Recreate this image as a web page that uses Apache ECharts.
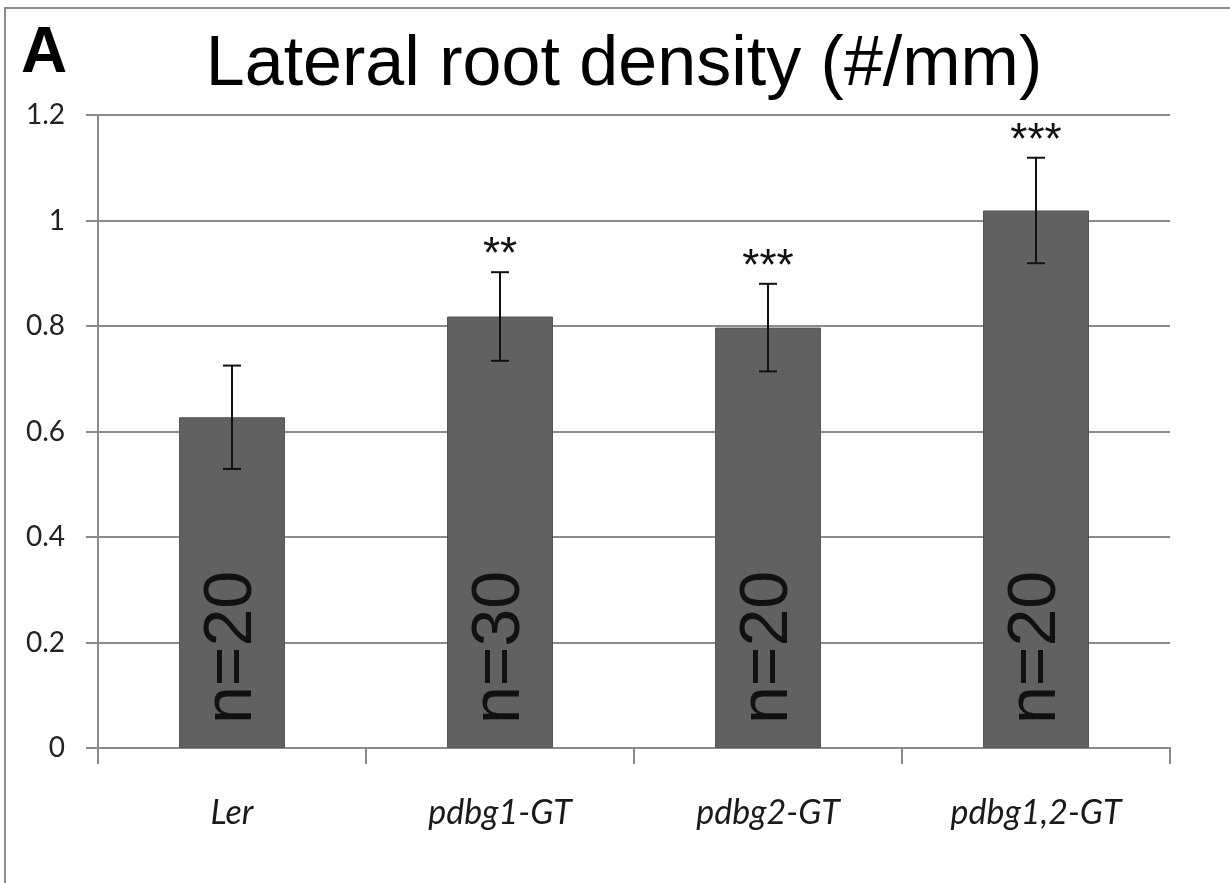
<!DOCTYPE html>
<html>
<head>
<meta charset="utf-8">
<script src="https://cdn.jsdelivr.net/npm/echarts@6/dist/echarts.min.js"></script>
<style>
html,body{margin:0;padding:0;background:#fff;}
#chart{width:1230px;height:883px;}
</style>
</head>
<body>
<div id="chart"></div>
<script>
var categories = ['Ler', 'pdbg1-GT', 'pdbg2-GT', 'pdbg1,2-GT'];
var means = [0.627, 0.818, 0.797, 1.019];
var errors = [0.098, 0.084, 0.083, 0.100];
var stars = ['', '**', '***', '***'];
var nLabels = ['n=20', 'n=30', 'n=20', 'n=20'];
var yTicks = [0, 0.2, 0.4, 0.6, 0.8, 1, 1.2];

var chart = echarts.init(document.getElementById('chart'), null, {renderer: 'canvas'});
var gridColor = '#8a8a8a';

var option = {
  backgroundColor: '#ffffff',
  animation: false,
  grid: {left: 98, right: 60, top: 115, bottom: 135, containLabel: false, outerBoundsMode: 'none'},
  graphic: [
    {type: 'polyline', silent: true, shape: {points: [[5, 883], [5, 8], [1230, 8]]},
     style: {stroke: '#8c8c8c', lineWidth: 2, fill: null}},
    {type: 'text', left: 21, top: 22, silent: true,
     style: {text: 'A', font: 'bold 64px "Liberation Sans", Arial, sans-serif', fill: '#000'}},
    {type: 'text', silent: true,
     style: {text: 'Lateral root density (#/mm)', x: 624, y: 66, align: 'center', verticalAlign: 'middle',
             font: '70px "Liberation Sans", Arial, sans-serif', fill: '#000'}}
  ],
  xAxis: {
    type: 'category',
    data: categories,
    boundaryGap: true,
    axisLine: {show: true, lineStyle: {color: gridColor, width: 2}},
    axisTick: {show: true, length: 16, interval: 0, alignWithLabel: false, lineStyle: {color: gridColor, width: 2}},
    axisLabel: {show: true, interval: 0, margin: 48, fontSize: 34, fontStyle: 'italic',
                fontFamily: 'Lato, "Open Sans", sans-serif', color: '#1a1a1a'},
    splitLine: {show: false}
  },
  yAxis: {
    type: 'value',
    min: 0, max: 1.2, interval: 0.2,
    axisLine: {show: true, lineStyle: {color: gridColor, width: 2}},
    axisTick: {show: true, length: 12, lineStyle: {color: gridColor, width: 2}},
    axisLabel: {show: true, margin: 33, fontSize: 28, fontFamily: 'Lato, "Open Sans", sans-serif', color: '#222',
                formatter: function (v) {
                  for (var i = 0; i < yTicks.length; i++) {
                    if (Math.abs(yTicks[i] - v) < 1e-6) return String(yTicks[i]);
                  }
                  return '';
                }},
    splitLine: {show: true, lineStyle: {color: gridColor, width: 2}}
  },
  series: [
    {
      type: 'bar',
      data: means,
      barWidth: 106,
      itemStyle: {color: '#616161', borderColor: '#555555', borderWidth: 1},
      label: {
        show: true,
        position: 'insideBottom',
        distance: 24,
        rotate: 90,
        align: 'left',
        verticalAlign: 'middle',
        fontSize: 68,
        fontFamily: '"Liberation Sans", Arial, sans-serif',
        color: '#111',
        formatter: function (p) { return nLabels[p.dataIndex]; }
      },
      z: 2
    },
    {
      type: 'custom',
      data: categories.map(function (c, i) { return [i, means[i], errors[i]]; }),
      z: 5,
      renderItem: function (params, api) {
        var idx = params.dataIndex;
        var x = api.value(0), m = api.value(1), e = api.value(2);
        var top = api.coord([x, m + e]);
        var bot = api.coord([x, m - e]);
        var cap = 9;
        var st = {stroke: '#111', lineWidth: 2};
        var children = [
          {type: 'line', shape: {x1: top[0], y1: top[1], x2: bot[0], y2: bot[1]}, style: st},
          {type: 'line', shape: {x1: top[0] - cap, y1: top[1], x2: top[0] + cap, y2: top[1]}, style: st},
          {type: 'line', shape: {x1: bot[0] - cap, y1: bot[1], x2: bot[0] + cap, y2: bot[1]}, style: st}
        ];
        if (stars[idx]) {
          children.push({type: 'text', style: {text: stars[idx], x: top[0], y: top[1] - 16,
            align: 'center', verticalAlign: 'middle',
            font: '44px "Liberation Sans", Arial, sans-serif', fill: '#111'}});
        }
        return {type: 'group', children: children};
      }
    }
  ]
};
chart.setOption(option);
</script>
</body>
</html>
